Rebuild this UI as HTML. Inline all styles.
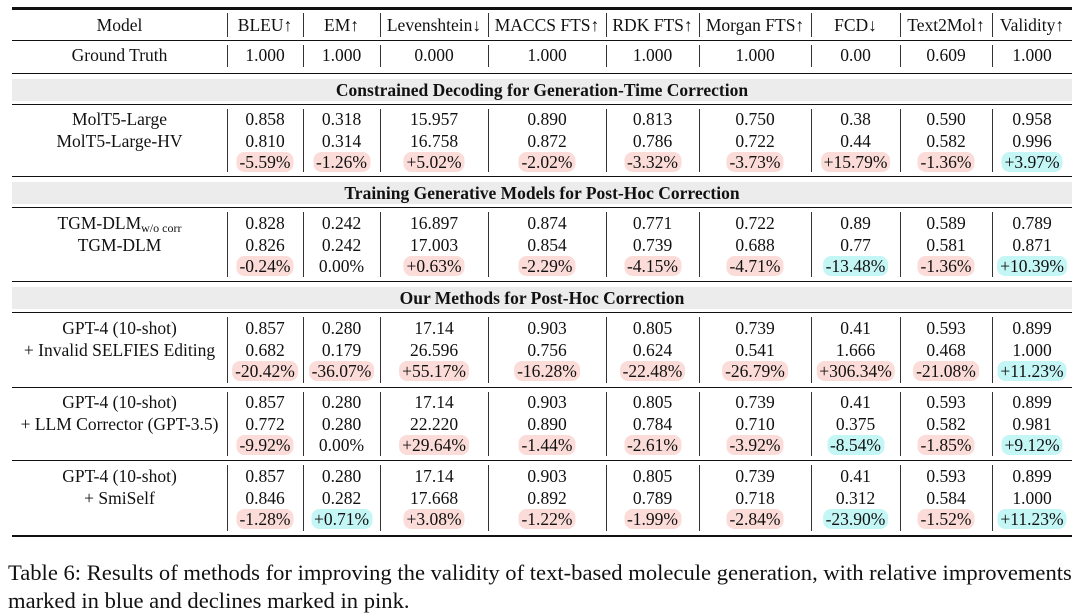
<!DOCTYPE html>
<html><head><meta charset="utf-8">
<style>
body{margin:0;width:1080px;height:616px;background:#fff;overflow:hidden;font-family:"Liberation Serif",serif;color:#111;}
#stage{position:relative;width:1080px;height:616px;}
.h{position:absolute;background:#111;left:12px;width:1060px;}
.v{position:absolute;width:1px;background:#333;}
.band{position:absolute;left:12px;width:1060px;background:#ececec;}
.t{position:absolute;font-size:17.5px;line-height:20px;white-space:nowrap;transform:translateX(-50%);}
.b{font-weight:bold;}
.pill{border-radius:8px;padding:0 3px;}
.neg{background:#fbdcd8;}
.pos{background:#c4f6f6;}
.cap{position:absolute;left:8px;font-size:22.6px;line-height:28px;white-space:nowrap;}
</style></head><body>
<div id="stage"></div>
<script>
const headers=["Model","BLEU↑","EM↑","Levenshtein↓","MACCS FTS↑","RDK FTS↑","Morgan FTS↑","FCD↓","Text2Mol↑","Validity↑"];
const groundTruth=["Ground Truth","1.000","1.000","0.000","1.000","1.000","1.000","0.00","0.609","1.000"];
const sections=["Constrained Decoding for Generation-Time Correction","Training Generative Models for Post-Hoc Correction","Our Methods for Post-Hoc Correction"];
const groups=[
 {sec:0,names:["MolT5-Large","MolT5-Large-HV"],a:["0.858","0.318","15.957","0.890","0.813","0.750","0.38","0.590","0.958"],b:["0.810","0.314","16.758","0.872","0.786","0.722","0.44","0.582","0.996"],d:["-5.59%","-1.26%","+5.02%","-2.02%","-3.32%","-3.73%","+15.79%","-1.36%","+3.97%"]},
 {sec:1,names:["TGM-DLM<sub style='font-size:12px;vertical-align:-3px'>w/o corr</sub>","TGM-DLM"],a:["0.828","0.242","16.897","0.874","0.771","0.722","0.89","0.589","0.789"],b:["0.826","0.242","17.003","0.854","0.739","0.688","0.77","0.581","0.871"],d:["-0.24%","0.00%","+0.63%","-2.29%","-4.15%","-4.71%","-13.48%","-1.36%","+10.39%"]},
 {sec:2,names:["GPT-4 (10-shot)","+ Invalid SELFIES Editing"],a:["0.857","0.280","17.14","0.903","0.805","0.739","0.41","0.593","0.899"],b:["0.682","0.179","26.596","0.756","0.624","0.541","1.666","0.468","1.000"],d:["-20.42%","-36.07%","+55.17%","-16.28%","-22.48%","-26.79%","+306.34%","-21.08%","+11.23%"]},
 {sec:-1,names:["GPT-4 (10-shot)","+ LLM Corrector (GPT-3.5)"],a:["0.857","0.280","17.14","0.903","0.805","0.739","0.41","0.593","0.899"],b:["0.772","0.280","22.220","0.890","0.784","0.710","0.375","0.582","0.981"],d:["-9.92%","0.00%","+29.64%","-1.44%","-2.61%","-3.92%","-8.54%","-1.85%","+9.12%"]},
 {sec:-1,names:["GPT-4 (10-shot)","+ SmiSelf"],a:["0.857","0.280","17.14","0.903","0.805","0.739","0.41","0.593","0.899"],b:["0.846","0.282","17.668","0.892","0.789","0.718","0.312","0.584","1.000"],d:["-1.28%","+0.71%","+3.08%","-1.22%","-1.99%","-2.84%","-23.90%","-1.52%","+11.23%"]}
];
const lowerBetter=[false,false,true,false,false,false,true,false,false];
const st=document.getElementById('stage');
const edges=[12,227,303,380,488,606,699,811,900,992,1072];
const centers=edges.slice(0,-1).map((e,i)=>(e+edges[i+1])/2);
const secY=[79,182,287];
const groupEnds=[176,281,387,460,535];
function mk(cls,css,html){const e=document.createElement('div');e.className=cls;e.style.cssText=css;if(html!==undefined)e.innerHTML=html;st.appendChild(e);return e;}
function hline(y,h){const e=mk('h','top:'+y+'px;height:'+h+'px;');

}
function vlines(y0,y1){for(let i=1;i<edges.length-1;i++){const e=mk('v','left:'+edges[i]+'px;top:'+y0+'px;height:'+(y1-y0)+'px;');

}}
function cell(i,y,txt,extra,name){const e=mk('t'+(extra||''),'left:'+centers[i]+'px;top:'+(y-10)+'px;',txt);

return e;}
hline(7,3);
headers.forEach((h,i)=>cell(i,25,h,'','column-header'));
vlines(13,37);
hline(40,1);
groundTruth.forEach((v,i)=>cell(i,55,v,'','ground-truth-cell'));
vlines(45,67);
hline(73,1);
let y=80;
groups.forEach((g,gi)=>{
 if(g.sec>=0){
  const by=secY[g.sec];
  const band=mk('band','top:'+by+'px;height:22px;');
  
  
  const s=mk('t b','left:542px;top:'+(by+1)+'px;',sections[g.sec]);
  
  
  hline(by+25,1);
  y=by+26;
 }
 const endY=groupEnds[gi];
 const mid=(y+endY)/2;
 const r0=mid-22;
 cell(0,r0,g.names[0],'','model-name');
 cell(0,r0+22,g.names[1],'','model-name');
 g.a.forEach((v,i)=>cell(i+1,r0,v,'','base-value'));
 g.b.forEach((v,i)=>cell(i+1,r0+22,v,'','corrected-value'));
 g.d.forEach((v,i)=>{
  const num=parseFloat(v);
  let cls='';
  if(num!==0){const good=lowerBetter[i]?num<0:num>0;cls=' pill '+(good?'pos':'neg');}
  cell(i+1,r0+43,v,cls,'relative-change');
 });
 vlines(y+4,endY-4);
 if(gi===groups.length-1){hline(endY,2);}else{hline(endY,1);}
 y=endY+1;
});
const c1=mk('cap','top:559px;','Table 6: Results of methods for improving the validity of text-based molecule generation, with relative improvements');


const c2=mk('cap','top:587px;','marked in blue and declines marked in pink.');


</script>
</body></html>
